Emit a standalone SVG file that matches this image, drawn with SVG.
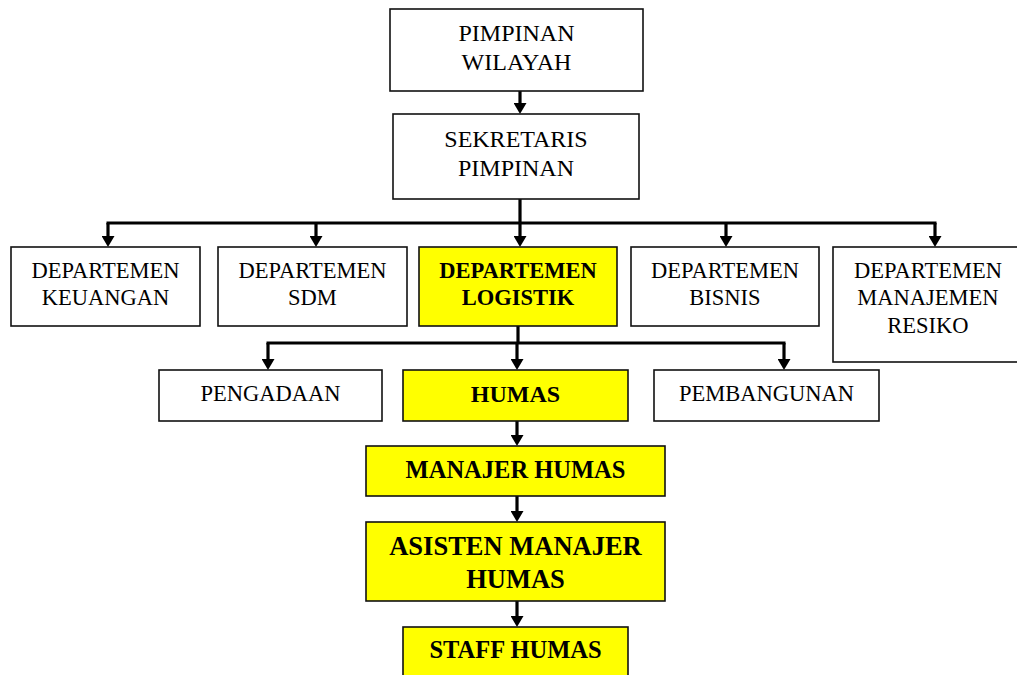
<svg xmlns="http://www.w3.org/2000/svg" width="1017" height="675" viewBox="0 0 1017 675">
<defs>
<style>
.box{fill:#ffffff;stroke:#111;stroke-width:1.6}
.hl{fill:#ffff00}
.t{font-family:"Liberation Serif","Times New Roman",serif;font-size:22.5px;text-anchor:middle;fill:#000}
.tt{font-size:24px}
.b{font-weight:bold}
.con{fill:none;stroke:#000;stroke-width:3.2}
</style>
<marker id="ah" markerWidth="11" markerHeight="13" viewBox="0 -6.5 11 13" refX="0" refY="0" orient="auto" markerUnits="userSpaceOnUse"><path d="M0,-6.5 L11,0 L0,6.5 Z" fill="#000"/></marker>
</defs>
<rect width="1017" height="675" fill="#fff"/>
<g id="connectors">
<path class="con" d="M520 91 V103" marker-end="url(#ah)"/>
<path class="con" d="M520 199 V223"/>
<path class="con" d="M106.5 223 H936.5"/>
<path class="con" d="M108 223 V236" marker-end="url(#ah)"/>
<path class="con" d="M316 223 V236" marker-end="url(#ah)"/>
<path class="con" d="M520 223 V236" marker-end="url(#ah)"/>
<path class="con" d="M726 223 V236" marker-end="url(#ah)"/>
<path class="con" d="M935 223 V236" marker-end="url(#ah)"/>
<path class="con" d="M518 326 V343"/>
<path class="con" d="M266.5 343 H785.5"/>
<path class="con" d="M268 343 V359" marker-end="url(#ah)"/>
<path class="con" d="M517 343 V359" marker-end="url(#ah)"/>
<path class="con" d="M784 343 V359" marker-end="url(#ah)"/>
<path class="con" d="M517 421 V435" marker-end="url(#ah)"/>
<path class="con" d="M517 496 V511" marker-end="url(#ah)"/>
<path class="con" d="M517 601 V616" marker-end="url(#ah)"/>
</g>
<g id="pimpinan-wilayah">
<rect class="box" x="390" y="9" width="253" height="82"/>
<text class="t tt" x="516.5" y="41">PIMPINAN</text>
<text class="t tt" x="516.5" y="70">WILAYAH</text>
</g>
<g id="sekretaris-pimpinan">
<rect class="box" x="393" y="114" width="246" height="85"/>
<text class="t tt" x="516" y="147">SEKRETARIS</text>
<text class="t tt" x="516" y="176">PIMPINAN</text>
</g>
<g id="dept-keuangan">
<rect class="box" x="11" y="247" width="189" height="79"/>
<text class="t" x="105.5" y="278">DEPARTEMEN</text>
<text class="t" x="105.5" y="305">KEUANGAN</text>
</g>
<g id="dept-sdm">
<rect class="box" x="218" y="247" width="189" height="79"/>
<text class="t" x="312.5" y="278">DEPARTEMEN</text>
<text class="t" x="312.5" y="305">SDM</text>
</g>
<g id="dept-logistik">
<rect class="box hl" x="419" y="247" width="198" height="79"/>
<text class="t b" x="518" y="278">DEPARTEMEN</text>
<text class="t b" x="518" y="305">LOGISTIK</text>
</g>
<g id="dept-bisnis">
<rect class="box" x="631" y="247" width="188" height="79"/>
<text class="t" x="725" y="278">DEPARTEMEN</text>
<text class="t" x="725" y="305">BISNIS</text>
</g>
<g id="dept-manajemen-resiko">
<rect class="box" x="833" y="247" width="190" height="115"/>
<text class="t" x="928" y="278">DEPARTEMEN</text>
<text class="t" x="928" y="305">MANAJEMEN</text>
<text class="t" x="928" y="333">RESIKO</text>
</g>
<g id="pengadaan">
<rect class="box" x="159" y="370" width="223" height="51"/>
<text class="t" x="270.5" y="401">PENGADAAN</text>
</g>
<g id="humas">
<rect class="box hl" x="403" y="370" width="225" height="51"/>
<text class="t tt b" x="515.5" y="402">HUMAS</text>
</g>
<g id="pembangunan">
<rect class="box" x="654" y="370" width="225" height="51"/>
<text class="t" x="766.5" y="401">PEMBANGUNAN</text>
</g>
<g id="manajer-humas">
<rect class="box hl" x="366" y="446" width="299" height="50"/>
<text class="t b" x="515.5" y="478" style="font-size:24.5px">MANAJER HUMAS</text>
</g>
<g id="asisten-manajer-humas">
<rect class="box hl" x="366" y="522" width="299" height="79"/>
<text class="t b" x="515.5" y="555" style="font-size:26.5px">ASISTEN MANAJER</text>
<text class="t b" x="515.5" y="588" style="font-size:26.5px">HUMAS</text>
</g>
<g id="staff-humas">
<rect class="box hl" x="403" y="627" width="225" height="60"/>
<text class="t b" x="515.5" y="658" style="font-size:24.5px">STAFF HUMAS</text>
</g>
</svg>
